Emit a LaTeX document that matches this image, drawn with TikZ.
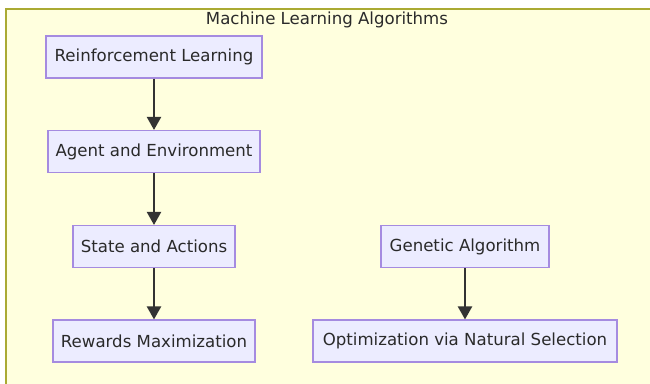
\documentclass[tikz,border=0pt]{standalone}
\usepackage{fontspec}
\setmainfont{DejaVu Sans}
\usetikzlibrary{arrows.meta}
\definecolor{clusterfill}{HTML}{FFFFDE}
\definecolor{clusterline}{HTML}{AAAA33}
\definecolor{nodefill}{HTML}{ECECFF}
\definecolor{nodeline}{HTML}{A58BE0}
\definecolor{edgecol}{HTML}{333333}
\definecolor{textcol}{HTML}{2A2A2A}
\tikzset{
  box/.style={draw=nodeline, fill=nodefill, line width=1.1pt, inner sep=0pt,
    minimum height=42pt, text=textcol, font=\fontsize{16.6pt}{19pt}\selectfont},
  edge/.style={draw=edgecol, line width=2.2pt, -{Triangle[length=13pt,width=14pt]}}
}
\begin{document}
\begin{tikzpicture}[x=1pt,y=-1pt]
\useasboundingbox (0,0) rectangle (650,383);
\fill[white] (0,0) rectangle (650,383);
\draw[draw=clusterline, fill=clusterfill, line width=1.5pt] (6,9) rectangle (660,395);
\node[text=textcol, font=\fontsize{16.6pt}{19pt}\selectfont] (title) at (327,20) {Machine Learning Algorithms};
\node[box, minimum width=216pt] (rl) at (154,57) {Reinforcement Learning};
\node[box, minimum width=212pt] (ae) at (154,151.5) {Agent and Environment};
\node[box, minimum width=162pt] (sa) at (154,246.5) {State and Actions};
\node[box, minimum width=202pt] (rm) at (154,341) {Rewards Maximization};
\node[box, minimum width=168pt] (ga) at (465,246.5) {Genetic Algorithm};
\node[box, minimum width=304pt] (on) at (465,341) {Optimization via Natural Selection};
\draw[edge] (rl) -- (ae);
\draw[edge] (ae) -- (sa);
\draw[edge] (sa) -- (rm);
\draw[edge] (ga) -- (on);
\end{tikzpicture}
\end{document}
